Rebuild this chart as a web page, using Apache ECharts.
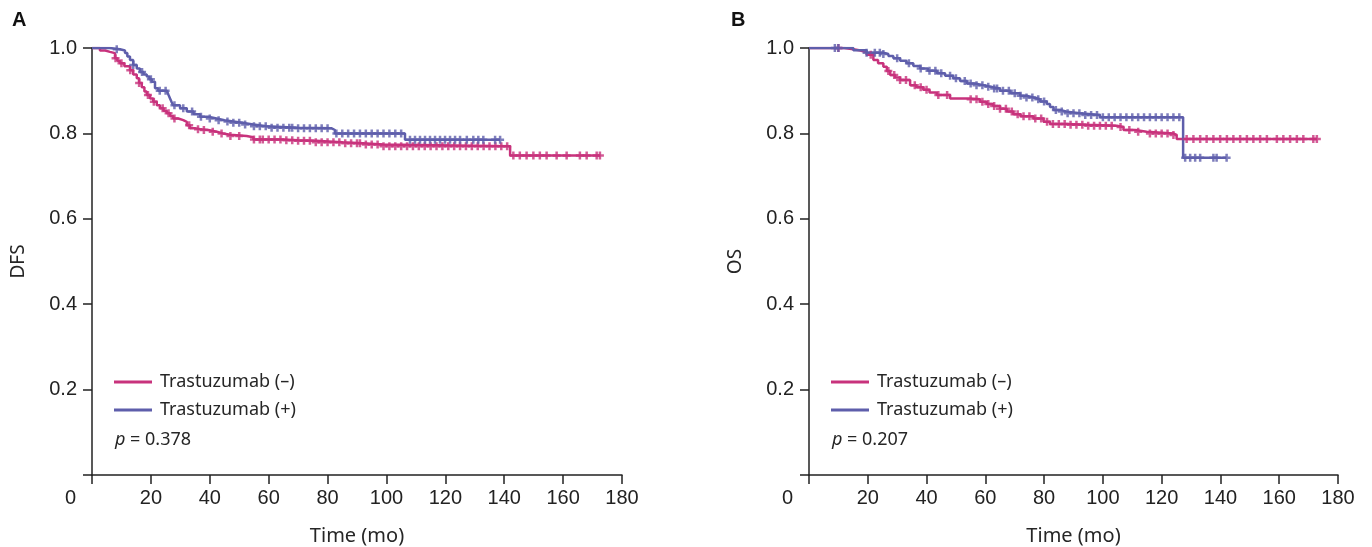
<!DOCTYPE html>
<html>
<head>
<meta charset="utf-8">
<script src="https://cdn.jsdelivr.net/npm/echarts@6/dist/echarts.min.js"></script>
<style>
  html, body { margin: 0; padding: 0; background: #fff; }
  #main { width: 1372px; height: 547px; }
</style>
</head>
<body>
<div id="main"></div>
<script>
// 生存曲线数据 [时间(月), 生存率]
var dfsNeg = [[0, 1], [2.7, 0.994], [4.5, 0.991], [6.1, 0.988], [7.8, 0.976], [8.6, 0.970], [9.5, 0.964], [11, 0.957],
  [12.9, 0.948], [14, 0.938], [15.2, 0.929], [16, 0.918], [16.9, 0.908], [17.8, 0.898], [18.6, 0.890], [19.7, 0.882],
  [20.8, 0.874], [22, 0.866], [23.1, 0.859], [24.3, 0.853], [25.4, 0.847], [26.5, 0.841], [27.6, 0.835], [29.3, 0.831],
  [31, 0.827], [32.2, 0.819], [33.3, 0.812], [35, 0.810], [36.7, 0.808], [39.5, 0.804], [42.4, 0.800], [44.5, 0.797],
  [46.9, 0.794], [52.5, 0.791], [54.8, 0.786], [65, 0.784], [70, 0.783], [76, 0.779], [85, 0.777], [92, 0.774],
  [98.9, 0.770], [142, 0.748], [172.5, 0.748]];
var dfsPos = [[0, 1], [6, 0.997], [9.5, 0.994], [11.2, 0.988], [12, 0.980], [12.9, 0.972], [14, 0.960], [15.2, 0.952],
  [16.3, 0.944], [17.5, 0.938], [18.6, 0.933], [19.5, 0.927], [20.3, 0.921], [21.4, 0.906], [22.5, 0.900], [25.4, 0.898],
  [26, 0.890], [26.5, 0.882], [27, 0.874], [27.6, 0.866], [29.9, 0.859], [32.2, 0.851], [34.5, 0.845], [36.7, 0.839],
  [39.5, 0.835], [42.3, 0.831], [45, 0.828], [48, 0.825], [51, 0.821], [54.8, 0.817], [59.3, 0.813], [70, 0.812],
  [81.4, 0.808], [82.5, 0.800], [106.3, 0.785], [138.6, 0.785]];
var osNeg = [[0, 1], [12, 0.997], [15.1, 0.994], [17.5, 0.990], [19.6, 0.984], [21.9, 0.972], [23.5, 0.964], [25.3, 0.956],
  [26.5, 0.946], [27.6, 0.937], [29.3, 0.931], [31, 0.925], [34.4, 0.913], [36.5, 0.908], [38.9, 0.902], [41, 0.896],
  [43.5, 0.890], [48, 0.882], [54.8, 0.880], [58.2, 0.874], [60.5, 0.869], [62.7, 0.864], [65, 0.858], [67.3, 0.851],
  [69.5, 0.845], [72, 0.840], [76.4, 0.835], [79.8, 0.827], [82, 0.822], [87.7, 0.820], [95, 0.818], [104.7, 0.815],
  [107, 0.808], [111, 0.804], [114.9, 0.800], [124, 0.796], [125.1, 0.787], [172.8, 0.787]];
var osPos = [[0, 1], [15.1, 0.995], [19.6, 0.989], [25.3, 0.986], [27, 0.981], [28.7, 0.976], [31, 0.970], [33.2, 0.964],
  [35.5, 0.958], [37.8, 0.952], [40.5, 0.947], [43.5, 0.941], [46.3, 0.935], [49.1, 0.929], [51.4, 0.923], [53.7, 0.917],
  [56.5, 0.913], [59.3, 0.909], [62, 0.905], [65, 0.900], [68.5, 0.894], [71.8, 0.888], [74, 0.884], [76.4, 0.880],
  [78.6, 0.875], [80.9, 0.869], [82, 0.862], [83.2, 0.855], [85.5, 0.851], [87.7, 0.847], [92.2, 0.843], [99, 0.838],
  [127.3, 0.743], [142, 0.743]];

// 删失时间(月)
var dfsNegCensor = [8, 10, 13, 16, 19, 21, 24, 26, 28, 33, 36, 38, 41, 44, 47, 50, 55, 57, 58, 60, 62, 64, 66, 68, 70, 72,
  74, 76, 78, 80, 82, 84, 86, 88, 90, 91, 93, 95, 97, 99, 101, 103, 105, 107, 109, 111, 113, 115, 117, 119, 121, 123, 125,
  127, 129, 131, 133, 135, 137, 139, 141, 143.1, 145.3, 147.6, 149.9, 152.1, 154.4, 157.8, 161.2, 165.7, 168, 171.4, 172.5];
var dfsPosCensor = [8.4, 14, 17, 20, 23, 25, 28, 31, 34, 37, 40, 43, 46, 48, 50, 52, 55, 57, 59, 61, 63, 65, 67, 68, 70,
  72, 74, 76, 78, 80, 83, 85, 87, 89, 91, 93, 95, 97, 99, 101, 103, 105, 108, 109.7, 111.4, 113.1, 114.8, 116.5, 118.2,
  119.9, 121.6, 123.3, 125, 127.3, 129.5, 131.2, 132.9, 136.9, 138.6];
var osNegCensor = [10, 21, 27, 29, 31, 33, 36, 38, 40, 44, 47, 55, 57, 59, 61, 63, 65, 67, 69, 71, 73, 75, 77, 79, 81, 83,
  85, 87, 89, 91, 93, 95, 97, 99, 101, 103, 106, 109, 112, 116, 118, 120, 122, 124, 128.5, 130.8, 133.1, 135.3, 137.6,
  139.9, 142.2, 144.4, 146.7, 149, 151.2, 153.5, 155.8, 159.2, 161.4, 163.7, 166, 168.2, 171.6, 172.8];
var osPosCensor = [8.8, 10, 19.6, 22.4, 24.1, 25.3, 30, 34, 38, 41, 43, 45, 48, 50, 53, 55, 57, 59, 61, 63, 64, 66, 68, 70,
  72, 74, 76, 78, 80, 84, 86, 88, 90, 92, 94, 96, 98, 100, 102, 104, 106, 108, 110, 112, 114, 116, 118, 120, 122, 124, 126,
  128, 129.7, 131.4, 133.1, 137.6, 138.7, 142.1];

var groupNames = ['Trastuzumab (–)', 'Trastuzumab (+)'];
var xTicks = [0, 20, 40, 60, 80, 100, 120, 140, 160, 180];
var yTicks = [0, 0.2, 0.4, 0.6, 0.8, 1.0];
var pValues = ['0.378', '0.207'];
var yNames = ['DFS', 'OS'];

var PINK = '#c8327c';
var BLUE = '#5e5eab';
var AXIS = '#222';
var TEXT_COLOR = '#262626';
var TEXT_FONT = 'Noto Sans';
var TICK_FONT = 'Liberation Sans';

// 按阶梯函数取删失点的生存率
function censorPoints(curve, times) {
  return times.map(function (t) {
    var s = curve[0][1];
    for (var i = 0; i < curve.length; i++) {
      if (curve[i][0] <= t) s = curve[i][1];
    }
    return [t, s];
  });
}

var plusSymbol = 'path://M2.75,0h2.5v2.75h2.75v2.5h-2.75v2.75h-2.5v-2.75h-2.75v-2.5h2.75z';

function lineSeries(name, data, color, idx) {
  return {
    name: name, type: 'line', step: 'end', data: data, xAxisIndex: idx, yAxisIndex: idx,
    showSymbol: false, symbol: 'none', lineStyle: {color: color, width: 2.5}, itemStyle: {color: color},
    animation: false, z: 3
  };
}

function censorSeries(name, data, color, idx) {
  return {
    name: name, type: 'scatter', data: data, xAxisIndex: idx, yAxisIndex: idx,
    symbol: plusSymbol, symbolSize: [8, 8], itemStyle: {color: color}, animation: false, z: 4
  };
}

// 两个面板的绘图区，固定像素位置
var grids = [
  {left: 92, top: 48, width: 530, height: 427, outerBoundsMode: 'none', containLabel: false},
  {left: 809, top: 48, width: 529, height: 427, outerBoundsMode: 'none', containLabel: false}
];

var xAxes = [], yAxes = [], legends = [], titles = [];
for (var g = 0; g < 2; g++) {
  xAxes.push({
    type: 'value', gridIndex: g, min: xTicks[0], max: xTicks[xTicks.length - 1], interval: 20,
    name: 'Time (mo)', nameLocation: 'middle', nameGap: 51,
    nameTextStyle: {fontFamily: TEXT_FONT, fontSize: 20, color: TEXT_COLOR},
    axisLine: {lineStyle: {color: AXIS, width: 1.5}},
    axisTick: {show: true, length: 9, lineStyle: {color: AXIS, width: 1.5}},
    splitLine: {show: false},
    axisLabel: {
      margin: 13, fontFamily: TICK_FONT, fontSize: 20, color: AXIS,
      formatter: function (v) { return v === 0 ? '{o|0}' : String(v); },
      rich: {o: {fontFamily: TICK_FONT, fontSize: 20, color: AXIS, padding: [0, 43, 0, 0]}}
    }
  });
  yAxes.push({
    type: 'value', gridIndex: g, min: yTicks[0], max: yTicks[yTicks.length - 1], interval: 0.2,
    name: yNames[g], nameLocation: 'middle', nameGap: 64, nameRotate: 90,
    nameTextStyle: {fontFamily: TEXT_FONT, fontSize: 19, color: TEXT_COLOR},
    axisLine: {show: true, lineStyle: {color: AXIS, width: 1.5}},
    axisTick: {show: true, length: 9, lineStyle: {color: AXIS, width: 1.5}},
    splitLine: {show: false},
    axisLabel: {
      margin: 15, fontFamily: TICK_FONT, fontSize: 20, color: AXIS,
      formatter: function (v) { return v === 0 ? '' : v.toFixed(1); }
    }
  });
  legends.push({
    data: groupNames, orient: 'vertical', left: grids[g].left + 22, top: 373, padding: 0,
    icon: 'rect', itemWidth: 38, itemHeight: 3, itemGap: 10, selectedMode: false,
    textStyle: {fontFamily: TEXT_FONT, fontSize: 18, color: TEXT_COLOR, padding: [0, 0, 0, 3]}
  });
  titles.push({
    text: '{i|p} = ' + pValues[g], left: grids[g].left + 23, top: 431, padding: 0,
    textStyle: {
      fontFamily: TEXT_FONT, fontSize: 18, fontWeight: 'normal', color: TEXT_COLOR,
      rich: {i: {fontFamily: TEXT_FONT, fontSize: 18, fontStyle: 'italic', color: TEXT_COLOR}}
    }
  });
}
// 面板标签 A/B
titles.push({text: 'A', left: 12, top: 10, padding: 0, textStyle: {fontFamily: TICK_FONT, fontSize: 20, fontWeight: 'bold', color: '#111'}});
titles.push({text: 'B', left: 731, top: 10, padding: 0, textStyle: {fontFamily: TICK_FONT, fontSize: 20, fontWeight: 'bold', color: '#111'}});

var myChart = echarts.init(document.getElementById('main'));
myChart.setOption({
  backgroundColor: '#fff',
  animation: false,
  title: titles,
  legend: legends,
  grid: grids,
  xAxis: xAxes,
  yAxis: yAxes,
  series: [
    lineSeries(groupNames[0], dfsNeg, PINK, 0),
    lineSeries(groupNames[1], dfsPos, BLUE, 0),
    censorSeries(groupNames[0], censorPoints(dfsNeg, dfsNegCensor), PINK, 0),
    censorSeries(groupNames[1], censorPoints(dfsPos, dfsPosCensor), BLUE, 0),
    lineSeries(groupNames[0], osNeg, PINK, 1),
    lineSeries(groupNames[1], osPos, BLUE, 1),
    censorSeries(groupNames[0], censorPoints(osNeg, osNegCensor), PINK, 1),
    censorSeries(groupNames[1], censorPoints(osPos, osPosCensor), BLUE, 1)
  ]
});
</script>
</body>
</html>
